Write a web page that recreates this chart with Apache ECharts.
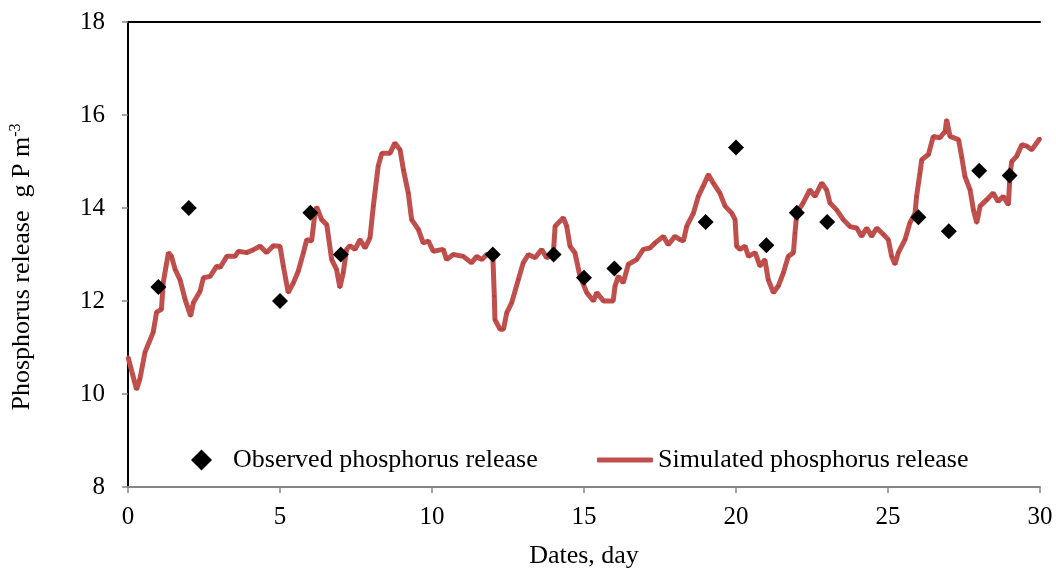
<!DOCTYPE html>
<html><head><meta charset="utf-8">
<script src="https://cdn.jsdelivr.net/npm/echarts@6/dist/echarts.min.js"></script>
<style>html,body{margin:0;padding:0;background:#fff}#c{width:1056px;height:574px}</style>
</head><body><div id="c"></div>
<script>
const xTicks = [0, 5, 10, 15, 20, 25, 30];
const yTicks = [8, 10, 12, 14, 16, 18];
const observedDays = [1, 2, 5, 6, 7, 12, 14, 15, 16, 19, 20, 21, 22, 23, 26, 27, 28, 29];
const observedValues = [12.3, 14.0, 12.0, 13.9, 13.0, 13.0, 13.0, 12.5, 12.7, 13.7, 15.3, 13.2, 13.9, 13.7, 13.8, 13.5, 14.8, 14.7];
const simulatedDays = [0,0.28,0.39,0.56,0.83,0.94,1.1,1.16,1.33,1.43,1.55,1.71,1.88,2.06,2.15,2.37,2.48,2.7,2.92,3.03,3.25,3.52,3.63,3.9,4.12,4.34,4.56,4.78,5.0,5.11,5.27,5.44,5.6,5.77,5.88,6.04,6.15,6.21,6.37,6.54,6.7,6.86,6.97,7.08,7.19,7.3,7.47,7.63,7.8,7.96,8.07,8.23,8.35,8.62,8.78,8.95,9.06,9.22,9.33,9.55,9.71,9.88,10.04,10.37,10.48,10.7,11.03,11.3,11.47,11.64,11.8,12.0,12.05,12.07,12.24,12.35,12.46,12.62,12.84,13.0,13.17,13.39,13.61,13.77,13.99,14.05,14.32,14.43,14.54,14.7,14.87,15.09,15.31,15.42,15.64,15.96,16.02,16.13,16.29,16.46,16.73,16.95,17.17,17.34,17.61,17.77,17.99,18.16,18.27,18.38,18.6,18.76,18.92,19.09,19.25,19.47,19.64,19.86,19.97,20.02,20.13,20.3,20.41,20.63,20.79,20.95,21.06,21.23,21.39,21.56,21.72,21.89,21.94,22.0,22.21,22.43,22.6,22.82,22.98,23.09,23.31,23.53,23.75,23.97,24.13,24.3,24.46,24.63,24.85,25.01,25.12,25.23,25.34,25.56,25.72,25.89,25.94,26.05,26.11,26.33,26.49,26.71,26.88,26.93,27.04,27.32,27.43,27.53,27.7,27.81,27.92,28.03,28.25,28.46,28.62,28.79,28.96,29.01,29.07,29.23,29.4,29.57,29.73,30];
const simulatedValues = [10.80,10.10,10.32,10.9,11.33,11.76,11.82,12.4,13.04,12.96,12.68,12.46,12.03,11.68,11.96,12.21,12.5,12.53,12.75,12.72,12.96,12.96,13.07,13.04,13.1,13.18,13.04,13.19,13.18,12.75,12.18,12.39,12.64,13.04,13.32,13.29,13.89,14.02,13.75,13.64,12.89,12.68,12.29,12.61,13.11,13.19,13.11,13.32,13.14,13.36,14.04,14.9,15.18,15.18,15.40,15.25,14.82,14.32,13.75,13.54,13.25,13.29,13.07,13.11,12.89,13.0,12.96,12.82,12.96,12.89,13.0,12.98,12.1,11.6,11.39,11.39,11.75,11.96,12.46,12.82,13.0,12.93,13.11,12.93,13.0,13.61,13.79,13.61,13.18,13.04,12.53,12.18,12.0,12.18,12.0,12.0,12.32,12.53,12.39,12.79,12.89,13.11,13.14,13.25,13.39,13.21,13.39,13.32,13.29,13.61,13.89,14.25,14.47,14.72,14.54,14.32,14.04,13.89,13.75,13.18,13.11,13.18,12.96,13.04,12.75,12.89,12.46,12.18,12.32,12.61,12.96,13.04,13.46,13.89,14.11,14.39,14.25,14.54,14.39,14.11,13.96,13.75,13.6,13.57,13.39,13.57,13.39,13.57,13.43,13.32,12.96,12.79,13.04,13.32,13.68,13.89,14.25,14.75,15.04,15.15,15.54,15.51,15.65,15.9,15.54,15.47,15.08,14.68,14.39,13.96,13.68,14.04,14.18,14.32,14.14,14.25,14.07,14.68,15.0,15.11,15.36,15.33,15.25,15.5];

const FONT = '"Liberation Serif","Times New Roman",serif';
const chart = echarts.init(document.getElementById('c'), null, {renderer: 'canvas'});
chart.setOption({
  animation: false,
  backgroundColor: '#fff',
  textStyle: {fontFamily: FONT},
  grid: {left: 128, right: 16, top: 22, bottom: 86, containLabel: false},
  legend: [
    {data: [{name: 'Observed phosphorus release', icon: 'diamond'}], left: 191, top: 447, itemWidth: 21, itemHeight: 21, itemGap: 0,
     itemStyle: {color: '#000', opacity: 1},
     textStyle: {fontFamily: FONT, fontSize: 26, color: '#000', padding: [0, 0, 0, 16]}, padding: 0},
    {data: [{name: 'Simulated phosphorus release', icon: 'roundRect'}], left: 597, top: 447, itemWidth: 56, itemHeight: 5, itemGap: 0,
     itemStyle: {color: '#c0504d'},
     textStyle: {fontFamily: FONT, fontSize: 26, color: '#000'}, padding: 0}
  ],
  xAxis: [{
    type: 'value', min: xTicks[0], max: xTicks[xTicks.length - 1], interval: 5,
    name: 'Dates, day', nameLocation: 'middle', nameGap: 56,
    nameTextStyle: {fontFamily: FONT, fontSize: 26, color: '#000'},
    axisLine: {show: true, lineStyle: {color: '#868686', width: 2}},
    axisTick: {show: true, inside: false, length: 6, lineStyle: {color: '#868686', width: 1.5}},
    axisLabel: {fontFamily: FONT, fontSize: 25, color: '#000', margin: 18},
    splitLine: {show: false}
  }, {
    type: 'value', min: xTicks[0], max: xTicks[xTicks.length - 1], interval: 5, position: 'top',
    axisLine: {show: true, lineStyle: {color: '#000', width: 2}},
    axisTick: {show: false}, axisLabel: {show: false}, splitLine: {show: false}
  }],
  yAxis: [{
    type: 'value', min: yTicks[0], max: yTicks[yTicks.length - 1], interval: 2,
    axisLine: {show: true, lineStyle: {color: '#868686', width: 2}},
    axisTick: {show: true, inside: false, length: 6, lineStyle: {color: '#868686', width: 1.5}},
    axisLabel: {fontFamily: FONT, fontSize: 25, color: '#000', margin: 23},
    splitLine: {show: false}
  }, {
    type: 'value', min: yTicks[0], max: yTicks[yTicks.length - 1], interval: 2, position: 'right',
    axisLine: {show: true, lineStyle: {color: '#000', width: 2}},
    axisTick: {show: false}, axisLabel: {show: false}, splitLine: {show: false}
  }],
  graphic: [{
    type: 'text', x: 22, y: 267, rotation: Math.PI / 2,
    style: {
      text: '{n|Phosphorus release  g P m}{s|-3}',
      align: 'center', verticalAlign: 'middle',
      rich: {
        n: {fontFamily: FONT, fontSize: 26, fill: '#000', color: '#000'},
        s: {fontFamily: FONT, fontSize: 16, fill: '#000', color: '#000', verticalAlign: 'top', padding: [0, 0, 12, 0]}
      }
    }
  }],
  series: [{
    name: 'Simulated phosphorus release', type: 'line', xAxisIndex: 0, yAxisIndex: 0,
    data: simulatedDays.map((d, i) => [d, simulatedValues[i]]),
    lineStyle: {color: '#c0504d', width: 5},
    itemStyle: {color: '#b8403c'},
    symbol: 'circle', symbolSize: 3, showSymbol: true, z: 2
  }, {
    name: 'Observed phosphorus release', type: 'scatter', xAxisIndex: 0, yAxisIndex: 0,
    data: observedDays.map((d, i) => [d, observedValues[i]]),
    symbol: 'diamond', symbolSize: 16,
    itemStyle: {color: '#000', opacity: 1}, z: 3
  }]
});
</script></body></html>
